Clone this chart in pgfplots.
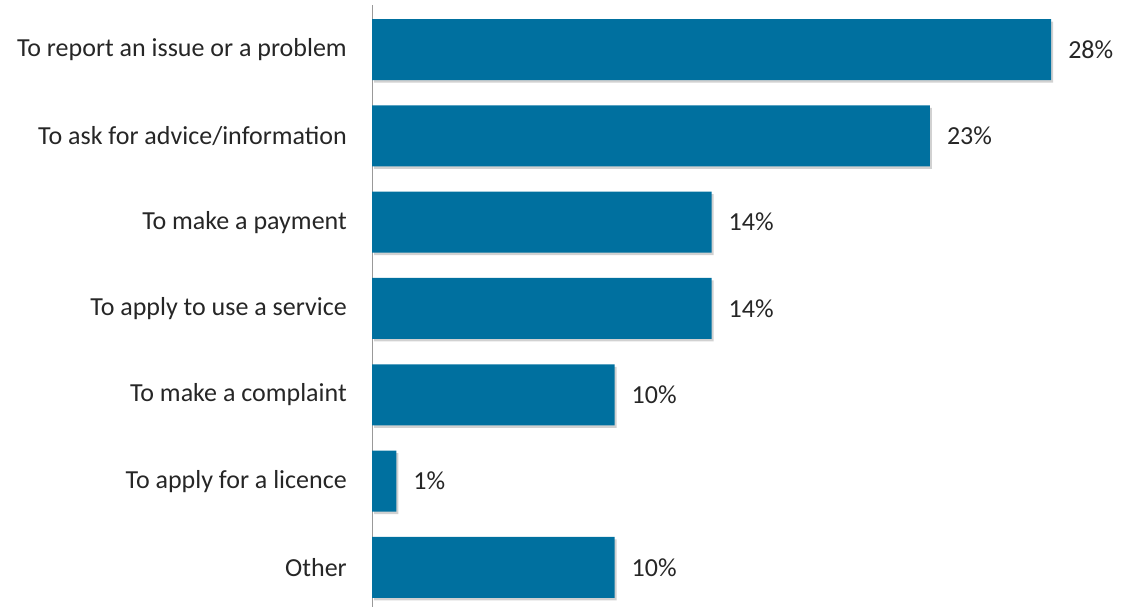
\documentclass[border=0pt]{standalone}
\usepackage{pgfplots}
\pgfplotsset{compat=1.18}
\usepackage{fontspec}
\setmainfont{Carlito}
\usetikzlibrary{shadows}
\definecolor{barblue}{HTML}{00709F}
\definecolor{txt}{HTML}{262626}
\begin{document}
\begin{tikzpicture}[x=1pt,y=1pt]
\useasboundingbox (0,0) rectangle (1126,607);
\begin{axis}[
  at={(372pt,0pt)}, anchor=south west,
  scale only axis, width=754pt, height=602pt,
  xmin=0, xmax=31.09, ymin=-0.459, ymax=6.517,
  axis x line=none,
  axis y line*=left,
  axis line style={draw=black!40, line width=1pt},
  y axis line style={-},
  ytick={0,1,2,3,4,5,6},
  yticklabels={Other, To apply for a licence, To make a complaint, To apply to use a service, To make a payment, To ask for advice/information, To report an issue or a problem},
  major tick length=0pt,
  /pgf/number format/assume math mode=true,
  yticklabel style={font=\fontsize{26}{30}\selectfont, text=txt, anchor=east, inner sep=0pt, xshift=-25pt},
  xbar, bar width=61pt,
  nodes near coords={\pgfmathprintnumber{\pgfplotspointmeta}\%},
  nodes near coords style={font=\fontsize{26}{30}\selectfont, text=txt, anchor=west, inner sep=0pt, xshift=17pt},
  point meta=x,
  clip=false,
]
\addplot[fill=barblue, draw=none, drop shadow={shadow xshift=2pt, shadow yshift=-2.5pt, fill=black, opacity=0.18}] coordinates {
 (10,0) (1,1) (10,2) (14,3) (14,4) (23,5) (28,6)
};
\end{axis}
\end{tikzpicture}
\end{document}
